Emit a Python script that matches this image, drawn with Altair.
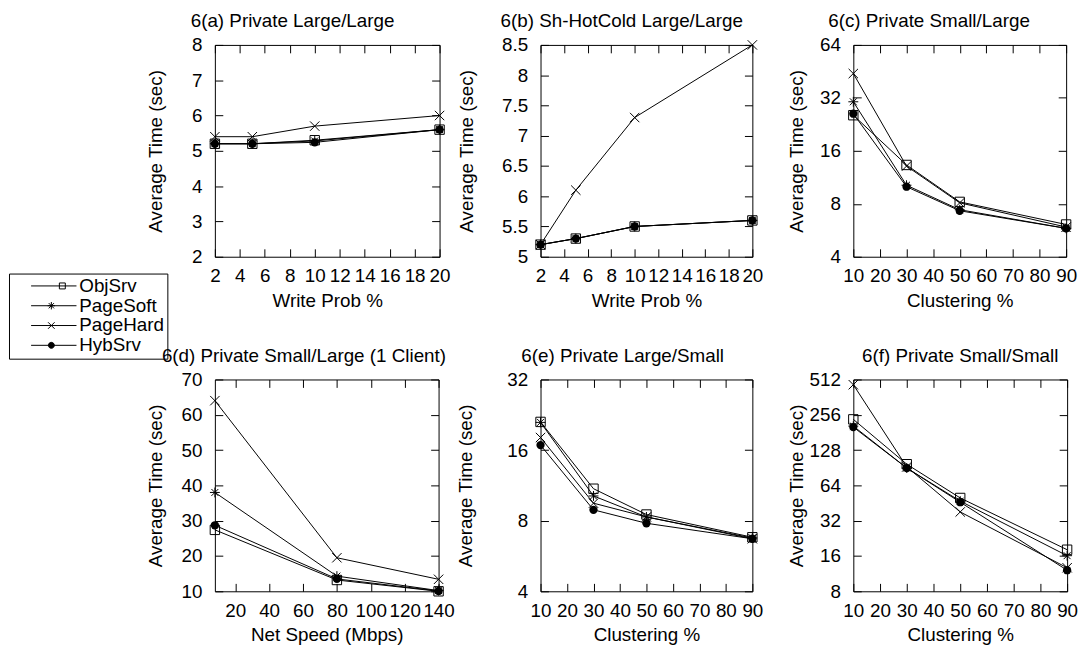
import altair as alt
import pandas as pd

FONT = "Liberation Sans"
FS = 19

SERIES = ["ObjSrv", "PageSoft", "PageHard", "HybSrv"]

# 6(a) Private Large/Large
A_X = [2, 5, 10, 20]
A_OBJ = [5.2, 5.2, 5.3, 5.6]
A_SOFT = [5.2, 5.2, 5.28, 5.6]
A_HARD = [5.4, 5.4, 5.7, 6.0]
A_HYB = [5.2, 5.2, 5.24, 5.6]

# 6(b) Sh-HotCold Large/Large
B_X = [2, 5, 10, 20]
B_OBJ = [5.2, 5.3, 5.5, 5.6]
B_SOFT = [5.2, 5.3, 5.5, 5.6]
B_HARD = [5.2, 6.1, 7.3, 8.5]
B_HYB = [5.2, 5.3, 5.5, 5.6]

# 6(c) Private Small/Large
C_X = [10, 30, 50, 90]
C_OBJ = [25.5, 13.3, 8.2, 6.1]
C_SOFT = [30.4, 10.2, 7.4, 5.8]
C_HARD = [44, 13.1, 8.1, 5.9]
C_HYB = [26, 10.0, 7.3, 5.8]

# 6(d) Private Small/Large (1 Client)
D_X = [8, 80, 140]
D_OBJ = [27.4, 13.2, 10.0]
D_SOFT = [38, 14.3, 10.2]
D_HARD = [64, 19.5, 13.4]
D_HYB = [28.7, 13.5, 10.1]

# 6(e) Private Large/Small
E_X = [10, 30, 50, 90]
E_OBJ = [21.1, 10.95, 8.5, 6.8]
E_SOFT = [21.0, 10.2, 8.3, 6.75]
E_HARD = [18.1, 9.5, 8.3, 6.7]
E_HYB = [16.8, 8.9, 7.8, 6.7]

# 6(f) Private Small/Small
F_X = [10, 30, 50, 90]
F_OBJ = [234, 97, 50, 18.1]
F_SOFT = [205, 90, 47, 16.1]
F_HARD = [462, 92, 38, 12.7]
F_HYB = [201, 90, 46, 12.1]

WRITE_TICKS = [2, 4, 6, 8, 10, 12, 14, 16, 18, 20]
CLUST_TICKS = [10, 20, 30, 40, 50, 60, 70, 80, 90]
NET_TICKS = [20, 40, 60, 80, 100, 120, 140]

PT_SHAPES = ["square",
             "M-1,0H1M0,-1V1M-0.7,-0.7L0.7,0.7M-0.7,0.7L0.7,-0.7",
             "M-1,-1L1,1M-1,1L1,-1",
             "circle"]
PT_SIZES = [90, 100, 90, 70]
PT_FILLED = [False, False, False, True]

LEG_PATHS = [
    "M3.28,0H18.56M12.8,-1H14.8V1H12.8Z",
    "M3.28,0H18.56M8.85,0H11.35M10.1,-1.25V1.25M9.22,-0.88L10.98,0.88M9.22,0.88L10.98,-0.88",
    "M3.28,0H18.56M9,-1.1L11.2,1.1M9,1.1L11.2,-1.1",
    "M3.28,0H18.56M9.1,0A1,1,0,1,1,11.1,0A1,1,0,1,1,9.1,0Z",
]
LEG_FILLS = ["transparent", "transparent", "transparent", "black"]
LEG_STROKES = ["black", "black", "black", "black"]

LABEL_EXPR = "format(datum.value, '~g')"


def panel(title, xs, vals, xdom, xticks, xtitle, ydom, yticks, ylog, width,
          title_dx, ytitle_pad, legend=False):
    rows = []
    for s, v in zip(SERIES, vals):
        for x, y in zip(xs, v):
            rows.append({"x": x, "y": y, "series": s})
    df = pd.DataFrame(rows)
    base = alt.Chart(df)
    xscale = alt.Scale(domain=xdom, nice=False, zero=False)
    if ylog:
        yscale = alt.Scale(type="log", base=2, domain=ydom, nice=False)
    else:
        yscale = alt.Scale(domain=ydom, nice=False, zero=False)

    x_bottom = alt.Axis(orient="bottom", values=xticks, offset=-8, tickSize=8,
                        domain=False, grid=False, labelPadding=10,
                        labelExpr=LABEL_EXPR, title=xtitle, titlePadding=6,
                        labelFlush=False, labelOverlap=False)
    y_left = alt.Axis(orient="left", values=yticks, offset=-8, tickSize=8,
                      domain=False, grid=False, labelPadding=13,
                      labelExpr=LABEL_EXPR, title="Average Time (sec)",
                      titlePadding=ytitle_pad, labelFlush=False, labelOverlap=False)
    x_top = alt.Axis(orient="top", values=xticks, offset=-8, tickSize=8,
                     domain=False, grid=False, labels=False, title=None)
    y_right = alt.Axis(orient="right", values=yticks, offset=-8, tickSize=8,
                       domain=False, grid=False, labels=False, title=None)

    line = base.mark_line(color="black", strokeWidth=1).encode(
        x=alt.X("x:Q", scale=xscale, axis=x_bottom),
        y=alt.Y("y:Q", scale=yscale, axis=y_left),
        detail="series:N",
    )
    layers = [line]
    for i, s in enumerate(SERIES):
        p = base.transform_filter(alt.datum.series == s).mark_point(
            shape=PT_SHAPES[i], size=PT_SIZES[i], filled=PT_FILLED[i],
            color="black", strokeWidth=1, opacity=1,
        ).encode(
            x=alt.X("x:Q", scale=xscale, axis=x_top if i == 0 else None),
            y=alt.Y("y:Q", scale=yscale, axis=y_right if i == 0 else None),
        )
        layers.append(p)
    if legend:
        leg = alt.Legend(title=None,
                         orient="none", legendX=-208, legendY=231,
                         strokeColor="black", padding=3, symbolSize=36,
                         symbolStrokeColor="black", symbolStrokeWidth=1,
                         labelFont=FONT, labelFontSize=FS, labelColor="black",
                         labelOffset=49, rowPadding=0)
        leg_df = pd.DataFrame({"series": SERIES})
        lg = alt.Chart(leg_df).transform_filter("false").mark_point(
            size=36, strokeWidth=1, opacity=1
        ).encode(
            shape=alt.Shape("series:N", scale=alt.Scale(domain=SERIES, range=LEG_PATHS), legend=leg),
            fill=alt.Fill("series:N", scale=alt.Scale(domain=SERIES, range=LEG_FILLS), legend=leg),
            stroke=alt.Stroke("series:N", scale=alt.Scale(domain=SERIES, range=LEG_STROKES), legend=leg),
        )
        layers.append(lg)
    return alt.layer(*layers).resolve_axis(x="independent", y="independent").properties(
        width=width, height=214,
        title=alt.TitleParams(title, anchor="middle", dx=title_dx, offset=5),
    )


pa = panel("6(a) Private Large/Large", A_X, [A_OBJ, A_SOFT, A_HARD, A_HYB],
           [2, 20], WRITE_TICKS, "Write Prob %", [2, 8], [2, 3, 4, 5, 6, 7, 8], False,
           227, -35, 26, legend=True)
pb = panel("6(b) Sh-HotCold Large/Large", B_X, [B_OBJ, B_SOFT, B_HARD, B_HYB],
           [2, 20], WRITE_TICKS, "Write Prob %", [5, 8.5],
           [5, 5.5, 6, 6.5, 7, 7.5, 8, 8.5], False, 214, -25, 25)
pc = panel("6(c) Private Small/Large", C_X, [C_OBJ, C_SOFT, C_HARD, C_HYB],
           [10, 90], CLUST_TICKS, "Clustering %", [4, 64], [4, 8, 16, 32, 64], True,
           215, -31, 13)
pd_ = panel("6(d) Private Small/Large (1 Client)", D_X, [D_OBJ, D_SOFT, D_HARD, D_HYB],
            [8, 140], NET_TICKS, "Net Speed (Mbps)", [10, 70],
            [10, 20, 30, 40, 50, 60, 70], False, 226, -23, 16)
pe = panel("6(e) Private Large/Small", E_X, [E_OBJ, E_SOFT, E_HARD, E_HYB],
           [10, 90], CLUST_TICKS, "Clustering %", [4, 32], [4, 8, 16, 32], True,
           214, -24, 32)
pf = panel("6(f) Private Small/Small", F_X, [F_OBJ, F_SOFT, F_HARD, F_HYB],
           [10, 90], CLUST_TICKS, "Clustering %", [8, 512],
           [8, 16, 32, 64, 128, 256, 512], True, 216, 0, 3)

chart = alt.concat(
    pa, pb, pc, pd_, pe, pf, columns=3, bounds="flush",
    spacing=alt.RowColnumber(row=124, column=102),
).properties(padding=0).configure_view(
    stroke="black", strokeWidth=1
).configure_axis(
    labelFont=FONT, titleFont=FONT, labelFontSize=FS, titleFontSize=FS,
    labelColor="black", titleColor="black", tickColor="black", tickWidth=1,
    titleFontWeight="normal",
).configure_title(
    font=FONT, fontSize=FS, fontWeight="normal", color="black",
)

chart.save("out.html", embed_options={"renderer": "svg", "actions": False})
